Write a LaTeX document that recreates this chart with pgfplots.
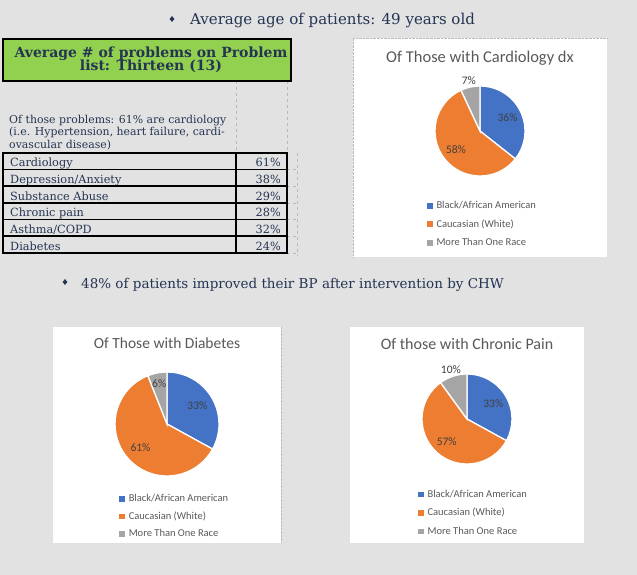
\documentclass[border=0pt]{standalone}
\usepackage{pgfplots}
\usepackage{pgfplotstable}
\pgfplotsset{compat=1.18}
\usepackage{fontspec}
\setmainfont{DejaVu Serif}
\newfontfamily\calfont{Carlito}
\usetikzlibrary{shapes.geometric}
\definecolor{bg}{RGB}{226,226,226}
\definecolor{grn}{HTML}{92D050}
\definecolor{navy}{RGB}{36,52,82}
\definecolor{cB}{HTML}{4472C4}
\definecolor{cO}{HTML}{ED7D31}
\definecolor{cG}{HTML}{A5A5A5}
\definecolor{ttl}{HTML}{595959}
\definecolor{lbl}{HTML}{404040}
\definecolor{dashc}{RGB}{185,185,185}
\newcommand\fs[1]{\fontsize{#1bp}{#1bp}\selectfont}

\pgfplotstableread{
group value
Black 36
Caucasian 58
More 7
}\cardio
\pgfplotstableread{
group value
Black 33
Caucasian 61
More 6
}\diab
\pgfplotstableread{
group value
Black 33
Caucasian 57
More 10
}\chron

\newcommand\pieangles[1]{%
  \pgfplotstablegetelem{0}{value}\of{#1}\edef\vA{\pgfplotsretval}%
  \pgfplotstablegetelem{1}{value}\of{#1}\edef\vB{\pgfplotsretval}%
  \pgfplotstablegetelem{2}{value}\of{#1}\edef\vC{\pgfplotsretval}%
  \pgfmathsetmacro\tot{\vA+\vB+\vC}%
  \pgfmathsetmacro\aB{90-360*(\vA/\tot)}%
  \pgfmathsetmacro\aC{90-360*((\vA+\vB)/\tot)}%
  \pgfmathsetmacro\mA{(90+\aB)/2}%
  \pgfmathsetmacro\mB{(\aB+\aC)/2}%
  \pgfmathsetmacro\mC{(\aC-270)/2}%
}

\pgfplotsset{
  pie/.style={hide axis, scale only axis, width=#1bp, height=#1bp,
    xmin=-1,xmax=1,ymin=-1,ymax=1, clip=false, anchor=center,
    legend cell align=left,
    legend image code/.code={\fill[##1] (0bp,-2.3bp) rectangle (4.6bp,2.3bp); \path (0bp,0bp) (8bp,0bp);},
    legend style={draw=none, fill=none, inner sep=0pt, anchor=north west,
      font=\calfont\fs{10.5}, text=ttl, row sep=7.5bp,
      nodes={inner sep=1bp}},
    legend entries={Black/African American, Caucasian (White), More Than One Race}},
}
\newcommand\slices{%
  \fill[cB,draw=white,line width=1.3bp] (axis cs:0,0) -- (axis cs:0,1) arc[start angle=90,end angle=\aB,radius=\R bp] -- cycle;
  \fill[cO,draw=white,line width=1.3bp] (axis cs:0,0) -- (axis cs:{cos(\aB)},{sin(\aB)}) arc[start angle=\aB,end angle=\aC,radius=\R bp] -- cycle;
  \fill[cG,draw=white,line width=1.3bp] (axis cs:0,0) -- (axis cs:{cos(\aC)},{sin(\aC)}) arc[start angle=\aC,end angle=-270,radius=\R bp] -- cycle;
  \addlegendimage{cB}\addlegendimage{cO}\addlegendimage{cG}
  \node[font=\calfont\fs{11.5},text=lbl] at (axis cs:{0.68*cos(\mA)},{0.68*sin(\mA)}) {\vA\%};
  \node[font=\calfont\fs{11.5},text=lbl] at (axis cs:{0.68*cos(\mB)},{0.68*sin(\mB)}) {\vB\%};
  \node[font=\calfont\fs{11.5},text=lbl] at (axis cs:{\gr*cos(\mC)},{\gr*sin(\mC)}) {\vC\%};
}

\begin{document}
\begin{tikzpicture}
\useasboundingbox (0bp,0bp) rectangle (637bp,-575bp);
\begin{scope}[x=1bp,y=-1bp]
\fill[bg] (0,0) rectangle (637,575);

% headline texts
\node[diamond,fill=navy,inner sep=0pt,minimum width=5bp,minimum height=6bp] at (172,19) {};
\node[anchor=base west,text=navy,font=\fs{15},inner sep=0pt] at (190,24) {Average age of patients: 49 years old};
\node[diamond,fill=navy,inner sep=0pt,minimum width=5bp,minimum height=6bp] at (65,282) {};
\node[anchor=base west,text=navy,font=\fs{13.5},inner sep=0pt] at (81,288) {48\% of patients improved their BP after intervention by CHW};

% table area
\draw[dashc,dashed] (236,81) -- (236,153);
\draw[dashc,dashed] (287,81) -- (287,153);
\draw[dashc,dashed] (297,153) -- (297,256);
\foreach \yy in {169.5,186,203,219.5,236,253} \draw[dashc,dashed] (287,\yy) -- (297,\yy);
\fill[grn] (3,39) rectangle (291,81);
\draw[black,line width=1.5bp] (3,39) rectangle (291,81);
\node[text=navy,font=\bfseries\fs{14},align=center,inner sep=0pt] at (151,60) {Average \# of problems on Problem\\[-1bp]list: Thirteen (13)};
\node[anchor=base west,text=navy,font=\fs{10.9},inner sep=0pt] at (9,123) {Of those problems: 61\% are cardiology};
\node[anchor=base west,text=navy,font=\fs{10.9},inner sep=0pt] at (9,135) {(i.e. Hypertension, heart failure, cardi-};
\node[anchor=base west,text=navy,font=\fs{10.9},inner sep=0pt] at (9,148) {ovascular disease)};
\foreach \t/\p/\yb in {Cardiology/61/169.5, Depression\slash Anxiety/38/186, Substance Abuse/29/203, Chronic pain/28/219.5, Asthma\slash COPD/32/236, Diabetes/24/253} {
  \node[anchor=base west,text=navy,font=\fs{11.3},inner sep=0pt] at (10,\yb-2.8) {\t};
  \node[anchor=base east,text=navy,font=\fs{11.3},inner sep=0pt] at (281,\yb-2.8) {\p\%};
}
\foreach \ya/\yb in {153/169.5,169.5/186,186/203,203/219.5,219.5/236,236/253} {
  \draw[black,line width=1.4bp] (3,\ya) rectangle (236,\yb);
  \draw[black,line width=1.4bp] (236,\ya) rectangle (287,\yb);
}

% panels
\fill[white] (353,38) rectangle (607,257);
\fill[white] (53,327) rectangle (281,543);
\fill[white] (350,327) rectangle (584,543);
\draw[dashc,densely dotted] (353,257) -- (353,38) -- (607,38);
\draw[dashc,densely dotted] (281,327) -- (281,543);

\node[font=\calfont\fs{16.5},text=ttl] at (480,58) {Of Those with Cardiology dx};
\node[font=\calfont\fs{15.5},text=ttl] at (167,343) {Of Those with Diabetes};
\node[font=\calfont\fs{16},text=ttl] at (467,344) {Of those with Chronic Pain};
\end{scope}

% pie 1
\pieangles{\cardio}\def\R{45}\def\gr{1.15}
\begin{axis}[pie=90, at={(480bp,-131bp)}, legend style={at={(axis cs:-1.18,-1.53)}}]
\slices
\end{axis}
% pie 2
\pieangles{\diab}\def\R{52}\def\gr{0.8}
\begin{axis}[pie=104, at={(167bp,-424bp)}, legend style={at={(axis cs:-0.92,-1.33)}, row sep=6.5bp}]
\slices
\end{axis}
% pie 3
\pieangles{\chron}\def\R{45}\def\gr{1.16}
\begin{axis}[pie=90, at={(467bp,-419bp)}, legend style={at={(axis cs:-1.09,-1.55)}}]
\slices
\end{axis}
\end{tikzpicture}
\end{document}
